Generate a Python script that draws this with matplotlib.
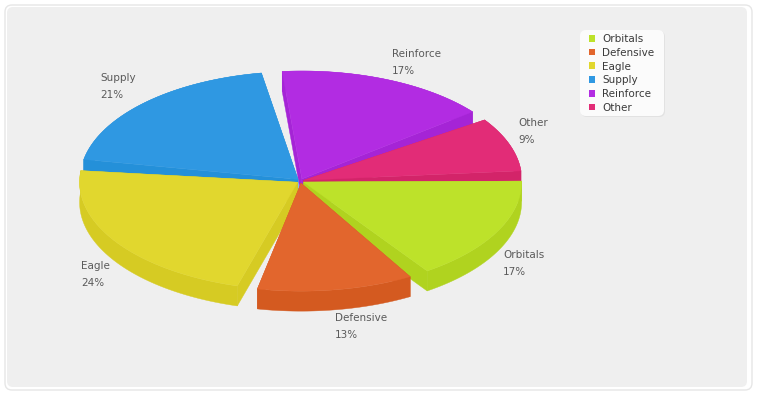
import matplotlib
matplotlib.use('Agg')
import matplotlib.pyplot as plt
import numpy as np
from matplotlib.patches import FancyBboxPatch, Polygon, Patch

categories = ['Orbitals', 'Defensive', 'Eagle', 'Supply', 'Reinforce', 'Other']
values = [16.8, 12.8, 23.5, 20.6, 17.0, 9.3]
top_colors = ['#BDE22A', '#E2662D', '#E1D72E', '#2F98E2', '#B22CE2', '#E22C77']
side_colors = ['#B0D31F', '#D45A20', '#D6CB23', '#2490D9', '#A524D6', '#D32469']

# label spots, in pixels
label_pos = [(503, 255), (335, 318), (81, 266), (100, 78), (392, 54), (518, 123)]

# pie geometry, in pixels
cx, cy = 300.5, 181
rx = 218
squash = 0.495
depth = 20
explode = 3.5
gap = 4.5
start = -0.5

plt.rcParams['font.family'] = 'DejaVu Sans'

fig = plt.figure(figsize=(7.6, 4), dpi=100, facecolor='white')
ax = fig.add_axes([0, 0, 1, 1])
ax.set_xlim(0, 760)
ax.set_ylim(400, 0)
ax.axis('off')

# background panel
ax.add_patch(FancyBboxPatch((8, 8), 741, 379, boxstyle='round,pad=3,rounding_size=7',
                            fc='white', ec='#E6E6E6', lw=1, zorder=0))
ax.add_patch(FancyBboxPatch((10, 10), 734, 374, boxstyle='round,pad=3,rounding_size=6',
                            fc='#EFEFEF', ec='none', zorder=0))

# slice angles from the values
total = sum(values)
spans = [v / total * 360 for v in values]
starts = start + np.cumsum([0] + spans[:-1])
slices = []
for i in range(len(values)):
    a0 = starts[i]
    a1 = a0 + spans[i] - gap
    mid = np.radians((a0 + a1) / 2)
    ox = cx + explode * np.cos(mid)
    oy = cy + explode * squash * 1.3 * np.sin(mid)
    slices.append((np.sin(mid), i, a0, a1, ox, oy))

# back to front so the nearer slices cover the farther ones
z = 2
for s, i, a0, a1, ox, oy in sorted(slices, key=lambda t: t[0]):
    t = np.radians(np.linspace(a0, a1, 80))
    ex = ox + rx * np.cos(t)
    ey = oy + rx * squash * np.sin(t)
    side = side_colors[i]

    # cut faces
    for k in (0, -1):
        pts = [(ox, oy), (ex[k], ey[k]), (ex[k], ey[k] + depth), (ox, oy + depth)]
        ax.add_patch(Polygon(pts, closed=True, fc=side, ec=side, lw=0.3, zorder=z))

    # outer wall
    pts = list(zip(ex, ey)) + list(zip(ex[::-1], ey[::-1] + depth))
    ax.add_patch(Polygon(pts, closed=True, fc=side, ec=side, lw=0.3, zorder=z))

    # top
    pts = [(ox, oy)] + list(zip(ex, ey))
    ax.add_patch(Polygon(pts, closed=True, fc=top_colors[i], ec=top_colors[i], lw=0.3, zorder=z + 1))
    z += 2

# labels
for i in range(len(categories)):
    x, y = label_pos[i]
    ax.text(x, y, categories[i], fontsize=7.5, color='#5A5A5A', ha='left', va='center', zorder=30)
    ax.text(x, y + 17, f'{values[i]:.0f}%', fontsize=7.5, color='#5A5A5A', ha='left', va='center', zorder=30)

# legend box, drawn by hand so its padding can differ by side
ax.add_patch(FancyBboxPatch((586, 36), 74, 76, boxstyle='round,pad=5,rounding_size=6',
                            fc='#E2E2E2', ec='none', zorder=38))
ax.add_patch(FancyBboxPatch((585, 35), 74, 76, boxstyle='round,pad=5,rounding_size=6',
                            fc='#FBFBFB', ec='none', zorder=39))

handles = [Patch(fc=c, ec='none', label=n) for c, n in zip(top_colors, categories)]
leg = ax.legend(handles=handles, loc='upper left', bbox_to_anchor=(589 / 760, 1 - 34 / 400),
                borderaxespad=0, borderpad=0, fontsize=7.5, labelcolor='#3A3A3A', frameon=False,
                handlelength=0.62, handleheight=0.62, handletextpad=0.65,
                labelspacing=0.36)
leg.set_zorder(40)

plt.savefig('out.png', dpi=100)
